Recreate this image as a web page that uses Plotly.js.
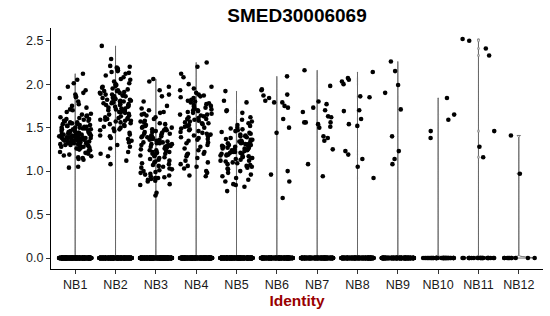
<!DOCTYPE html>
<html><head><meta charset="utf-8">
<script src="https://cdn.plot.ly/plotly-3.0.1.min.js"></script>
<style>html,body{margin:0;padding:0;background:#fff}#chart{width:550px;height:316px}</style>
</head><body><div id="chart"></div><script>
const chartTitle = 'SMED30006069';
const xAxisTitle = 'Identity';
const categories = ['NB1','NB2','NB3','NB4','NB5','NB6','NB7','NB8','NB9','NB10','NB11','NB12'];
const yTickVals = [0, 0.5, 1, 1.5, 2, 2.5];
const yTickText = ['0.0', '0.5', '1.0', '1.5', '2.0', '2.5'];

// non-zero expression values per identity
const nb1 = [2.12,2.05,2.01,1.97,1.93,1.90,1.88,1.86,1.85,1.84,1.80,1.77,1.75,1.73,1.71,1.70,1.68,1.66,1.65,1.64,1.63,1.62,1.61,1.60,1.60,1.59,1.58,1.58,1.57,1.56,1.56,1.55,1.55,1.54,1.54,1.53,1.53,1.52,1.52,1.51,1.51,1.50,1.50,1.50,1.49,1.49,1.48,1.48,1.48,1.47,1.47,1.46,1.46,1.46,1.45,1.45,1.45,1.44,1.44,1.44,1.43,1.43,1.43,1.42,1.42,1.42,1.41,1.41,1.41,1.40,1.40,1.40,1.40,1.39,1.39,1.39,1.38,1.38,1.38,1.38,1.37,1.37,1.37,1.36,1.36,1.36,1.36,1.35,1.35,1.35,1.34,1.34,1.34,1.33,1.33,1.33,1.32,1.32,1.32,1.31,1.31,1.30,1.30,1.30,1.29,1.29,1.28,1.28,1.27,1.27,1.26,1.26,1.25,1.25,1.24,1.23,1.22,1.21,1.20,1.19,1.18,1.17,1.16,1.15,1.14,1.13,1.05,1.04];
const nb2 = [2.44,2.29,2.21,2.20,2.19,2.18,2.17,2.16,2.15,2.14,2.13,2.12,2.10,2.08,2.06,2.05,2.03,2.01,2.00,1.99,1.98,1.97,1.96,1.95,1.94,1.93,1.92,1.92,1.91,1.90,1.90,1.89,1.88,1.88,1.87,1.87,1.86,1.86,1.85,1.85,1.84,1.84,1.83,1.83,1.82,1.82,1.81,1.81,1.80,1.80,1.79,1.79,1.78,1.78,1.77,1.77,1.76,1.76,1.75,1.75,1.74,1.74,1.73,1.72,1.72,1.71,1.70,1.70,1.69,1.68,1.68,1.67,1.66,1.65,1.64,1.63,1.62,1.61,1.61,1.60,1.60,1.59,1.59,1.58,1.58,1.57,1.56,1.55,1.54,1.53,1.52,1.51,1.50,1.49,1.48,1.47,1.46,1.44,1.42,1.41,1.40,1.38,1.37,1.35,1.33,1.30,1.28,1.26,1.22,1.20,1.17,1.12,1.08];
const nb3 = [2.06,2.03,1.97,1.93,1.88,1.86,1.80,1.75,1.72,1.70,1.68,1.67,1.66,1.65,1.64,1.62,1.60,1.58,1.57,1.56,1.55,1.54,1.53,1.52,1.51,1.50,1.50,1.49,1.48,1.47,1.47,1.46,1.45,1.45,1.44,1.43,1.43,1.42,1.41,1.41,1.40,1.40,1.39,1.39,1.38,1.38,1.37,1.37,1.36,1.36,1.35,1.35,1.34,1.34,1.33,1.33,1.32,1.32,1.31,1.31,1.30,1.30,1.29,1.29,1.28,1.28,1.27,1.26,1.26,1.25,1.24,1.24,1.23,1.22,1.22,1.21,1.20,1.20,1.19,1.18,1.17,1.16,1.15,1.14,1.13,1.12,1.11,1.10,1.09,1.08,1.07,1.06,1.05,1.04,1.03,1.02,1.01,1.00,0.99,0.98,0.97,0.96,0.95,0.94,0.93,0.92,0.92,0.91,0.90,0.89,0.88,0.85,0.84,0.75,0.72];
const nb4 = [2.25,2.20,2.12,2.08,2.00,1.97,1.95,1.93,1.90,1.88,1.87,1.86,1.85,1.84,1.82,1.81,1.80,1.79,1.78,1.77,1.76,1.75,1.74,1.73,1.72,1.71,1.70,1.70,1.69,1.68,1.67,1.66,1.65,1.65,1.64,1.63,1.62,1.61,1.60,1.60,1.59,1.58,1.57,1.56,1.55,1.55,1.54,1.53,1.52,1.51,1.50,1.49,1.48,1.47,1.46,1.45,1.44,1.43,1.42,1.41,1.40,1.39,1.38,1.37,1.36,1.35,1.33,1.32,1.30,1.28,1.26,1.24,1.22,1.20,1.20,1.19,1.17,1.15,1.12,1.10,1.08,1.06,1.05,1.03,1.00,0.98,0.95,0.94];
const nb5 = [1.92,1.81,1.79,1.70,1.69,1.67,1.62,1.59,1.57,1.55,1.53,1.52,1.50,1.49,1.48,1.47,1.46,1.45,1.44,1.43,1.42,1.41,1.40,1.40,1.39,1.38,1.37,1.36,1.36,1.35,1.34,1.34,1.33,1.32,1.32,1.31,1.31,1.30,1.30,1.29,1.29,1.28,1.28,1.27,1.27,1.26,1.26,1.25,1.25,1.24,1.24,1.23,1.23,1.22,1.22,1.21,1.21,1.20,1.20,1.19,1.19,1.18,1.18,1.17,1.17,1.16,1.15,1.15,1.14,1.13,1.12,1.12,1.11,1.10,1.09,1.08,1.07,1.06,1.05,1.04,1.03,1.02,1.00,0.98,0.96,0.94,0.92,0.90,0.88,0.85,0.84,0.82,0.77];
const nb6 = [2.09,1.94,1.93,1.88,1.87,1.84,1.81,1.79,1.79,1.75,1.73,1.60,1.50,1.44,1.00,0.96,0.88,0.69];
const nb7 = [2.16,1.98,1.80,1.77,1.73,1.70,1.68,1.63,1.62,1.56,1.56,1.56,1.54,1.51,1.50,1.40,1.38,1.35,1.25,1.08,0.94];
const nb8 = [2.14,2.07,2.05,2.03,2.00,1.86,1.85,1.70,1.69,1.60,1.54,1.52,1.23,1.19,1.14,1.05,0.92];
const nb9 = [2.26,2.15,1.99,1.90,1.71,1.40,1.23,1.14,1.08];
const nb10 = [1.84,1.65,1.59,1.46,1.38];
const nb11 = [2.52,2.50,2.41,2.33,1.46,1.28,1.16];
const nb12 = [1.41,0.97];
// number of cells with zero expression per identity (estimated)
const zeroCounts = [420,380,420,400,420,320,260,260,220,40,22,10];

const nonZero = [nb1,nb2,nb3,nb4,nb5,nb6,nb7,nb8,nb9,nb10,nb11,nb12];

// deterministic horizontal spread (jitter layout), width 0.8 category units
function spread(i, seed){
  const s = Math.sin((i + 1) * 12.9898 + (seed + 1) * 78.233) * 43758.5453;
  const f = s - Math.floor(s);
  return (f - 0.5) * 0.8;
}

const violins = [];
const ptsX = [], ptsY = [];
categories.forEach((c, k) => {
  const pos = k + 1;
  const vals = nonZero[k].slice();
  const zeros = new Array(zeroCounts[k]).fill(0);
  const all = vals.concat(zeros);
  violins.push({
    type: 'violin', x0: pos, y: all, name: c,
    points: false, box: {visible: false}, meanline: {visible: false},
    bandwidth: 0.01, spanmode: 'hard', scalemode: 'width', width: 0.8,
    line: {color: '#4d4d4d', width: 0.8}, fillcolor: 'rgba(0,0,0,0)',
    hoverinfo: 'skip', showlegend: false
  });
  all.forEach((v, i) => { ptsX.push(pos + spread(i, k)); ptsY.push(v); });
});

const points = {
  type: 'scatter', mode: 'markers', x: ptsX, y: ptsY,
  marker: {color: '#000000', size: 4.6}, hoverinfo: 'skip', showlegend: false
};

const layout = {
  width: 550, height: 316,
  margin: {l: 51, r: 7, t: 28, b: 47},
  paper_bgcolor: '#ffffff', plot_bgcolor: '#ffffff',
  font: {family: 'Liberation Sans, Arial, sans-serif', color: '#000000'},
  violinmode: 'overlay',
  title: {text: '<b>' + chartTitle + '</b>', font: {size: 19, color: '#000000'},
          x: 0.5, xref: 'paper', y: 1 - 15/316, yref: 'container', yanchor: 'middle'},
  xaxis: {
    range: [0.4, 12.6], tickvals: categories.map((c, k) => k + 1), ticktext: categories,
    showgrid: false, zeroline: false, showline: true, linecolor: '#000000', linewidth: 1,
    ticks: 'outside', ticklen: 4, tickcolor: '#333333', tickwidth: 1,
    tickfont: {size: 12.5, color: '#1a1a1a'}, automargin: true,
    title: {text: '<b>' + xAxisTitle + '</b>', font: {size: 15.5, color: '#990000'}, standoff: 1}
  },
  yaxis: {
    range: [-0.126, 2.646], tickvals: yTickVals, ticktext: yTickText,
    showgrid: false, zeroline: false, showline: true, linecolor: '#000000', linewidth: 1,
    ticks: 'outside', ticklen: 4, tickcolor: '#333333', tickwidth: 1,
    tickfont: {size: 12.5, color: '#1a1a1a'}
  }
};

Plotly.newPlot('chart', violins.concat([points]), layout, {displayModeBar: false, staticPlot: true});
</script></body></html>
